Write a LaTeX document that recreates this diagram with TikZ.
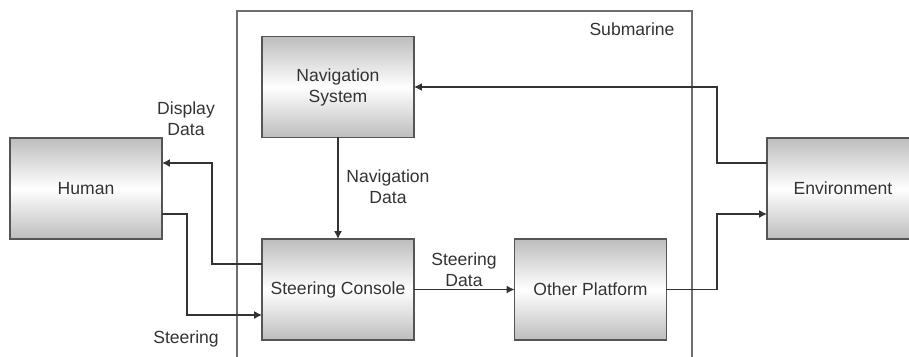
\documentclass[tikz,border=0pt]{standalone}
\usepackage{fontspec}
\setmainfont{Liberation Sans}
\usetikzlibrary{arrows.meta,calc}
\definecolor{ink}{HTML}{333333}
\definecolor{edge}{HTML}{555555}
\definecolor{framec}{HTML}{6E6E6E}
\definecolor{shadec}{HTML}{BDBDBD}
\begin{document}
\begin{tikzpicture}[x=0.02cm,y=-0.02cm,
  block/.style={draw=edge,line width=0.9pt,top color=shadec,bottom color=shadec,middle color=white,
    minimum width=3.04cm,minimum height=2.02cm,inner sep=0pt,outer sep=0pt,
    align=center,font=\fontsize{10}{12}\selectfont,text=ink},
  lbl/.style={align=center,font=\fontsize{10}{12}\selectfont,text=ink,inner sep=0pt},
  conn/.style={draw=ink,line width=0.7pt,-{Latex[length=4.5pt,width=4.5pt]}},
  plain/.style={draw=ink,line width=0.7pt}]
\useasboundingbox (0,0) rectangle (909,356);
\clip (0,0) rectangle (909,356);
\fill[white] (0,0) rectangle (909,356);

% submarine boundary
\node[draw=framec,line width=0.9pt,minimum width=9.1cm,minimum height=7.4cm,inner sep=0pt,outer sep=0pt,anchor=north west] (sub) at (237,11) {};
\node[lbl] (sublbl) at (632,29) {Submarine};

% blocks
\node[block] (hum) at (86,188.5) {Human};
\node[block] (nav) at (338,87) {Navigation\\System};
\node[block] (sc) at (338,289.5) {Steering Console};
\node[block] (op) at (590.5,289.5) {Other Platform};
\node[block] (env) at (843,188.5) {Environment};

% ports
\coordinate (sc-out) at ([yshift=0.51cm]sc.west);
\coordinate (sc-in) at ([yshift=-0.51cm]sc.west);
\coordinate (hum-in) at ([yshift=0.51cm]hum.east);
\coordinate (hum-out) at ([yshift=-0.51cm]hum.east);
\coordinate (env-out) at ([yshift=0.51cm]env.west);
\coordinate (env-in) at ([yshift=-0.51cm]env.west);
\coordinate (ddx) at (212,0);
\coordinate (stx) at (187,0);
\coordinate (envx) at (717,0);
\coordinate (navy) at (0,87);

% connectors
\draw[conn] (sc-out) -| (ddx |- hum-in) -- (hum-in);
\draw[conn] (hum-out) -| (stx |- sc-in) -- (sc-in);
\draw[conn] (nav.south) -- (sc.north);
\draw[conn] (sc.east) -- (op.west);
\draw[conn] (env-out) -| (envx |- nav.east) -- (nav.east);
\draw[conn] (op.east) -| (envx |- env-in) -- (env-in);

% labels
\node[lbl] (ddlbl) at (186,119) {Display\\Data};
\node[lbl] (stlbl) at (186,339) {Steering};
\node[lbl] (ndlbl) at (388,187) {Navigation\\Data};
\node[lbl] (sdlbl) at (464,270) {Steering\\Data};
\end{tikzpicture}
\end{document}
